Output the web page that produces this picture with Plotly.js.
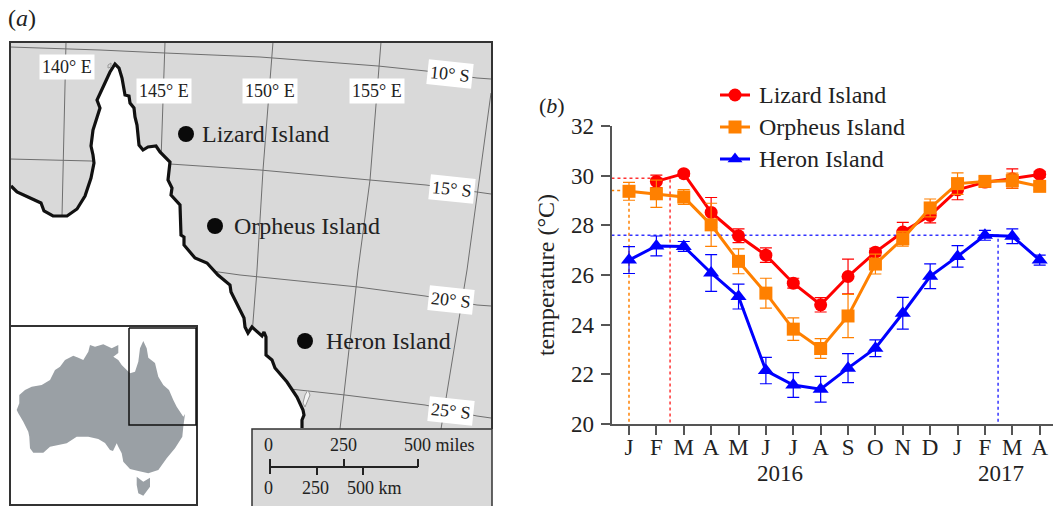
<!DOCTYPE html>
<html><head><meta charset="utf-8">
<script src="https://cdn.plot.ly/plotly-3.0.1.min.js"></script>
<style>html,body{margin:0;padding:0;background:#fff;overflow:hidden}#c{width:1053px;height:506px}</style>
</head><body><div id="c"></div>
<script>
// ---- panel (b) data ----
const months = ['J','F','M','A','M','J','J','A','S','O','N','D','J','F','M','A'];
const monthIndex = [0,1,2,3,4,5,6,7,8,9,10,11,12,13,14,15];
const lizard  = [null,29.77,30.08,28.52,27.58,26.8,25.67,24.8,25.94,26.92,27.73,28.4,29.43,29.74,29.88,30.05];
const lizardE = [null,0.25,0.1,0.6,0.28,0.29,0.2,0.29,0.7,0.15,0.39,0.3,0.4,0.2,0.39,0.12];
const orpheus  = [29.37,29.27,29.14,28.02,26.55,25.27,23.82,23.04,24.35,26.44,27.46,28.7,29.68,29.77,29.8,29.57];
const orpheusE = [0.36,0.55,0.3,0.87,0.5,0.6,0.45,0.4,0.87,0.4,0.3,0.36,0.43,0.2,0.3,0.12];
const heron  = [26.6,27.17,27.15,26.08,25.13,22.15,21.57,21.4,22.25,23.05,24.46,25.95,26.75,27.6,27.56,26.6];
const heronE = [0.54,0.4,0.2,0.74,0.5,0.53,0.5,0.52,0.58,0.34,0.64,0.5,0.43,0.2,0.3,0.2];
// dotted guide lines
const guideRedX = [-0.64,1.5,1.5],  guideRedY = [29.9,29.9,19.65];
const guideOrX  = [-0.87,0,0],      guideOrY  = [29.4,29.4,20];
const guideBlX  = [-0.64,13.48,13.48], guideBlY = [27.6,27.6,19.7];
// legend, in picture units
const seriesNames=['Lizard Island','Orpheus Island','Heron Island'];
const legendLineX=[720,750], legendMarkX=[735], legendRowY=[95,127,159], legendTextX=758;

// ---- panel (a) map outlines, in picture units ----
const frameX = [10,492,492,10,10], frameY = [42,42,506,506,42];
const coastX = [11,17,28,41,44,53,67,77,85,91,94,93,91,93,100,97,104,110,115,119,122,125,129,130,134,135,137,139,143,148,156,160,170,168,172,171,180,181,184,184,195,207,218,230,231,240,244,245,248,252,262,264,266,266,272,275,287,297,303,304,302,302];
const coastY = [186,192,197,203,211,216,216,209,196,178,163,155,146,130,108,100,85,72,64,68,78,95,96,103,108,117,125,145,150,147,146,152,162,180,188,195,205,235,237,245,258,263,275,285,292,310,318,327,333,327,336,332,337,355,360,368,382,397,410,415,420,428];
const landCloseX = [302,11], landCloseY = [506,506];
const lon140X=[66,62], lon140Y=[42,216];
const lon145X=[165,161], lon145Y=[42,160];
const lon150X=[273,263,257,252], lon150Y=[42,170,270,335];
const lon155X=[381,370,358,340], lon155Y=[42,180,270,429];
const lon160X=[491,467,441], lon160Y=[93,270,429];
const lat10X=[10,100,165,260,378,426,477,491], lat10Y=[47,50,53,57,66,71,78,79];
const lat15X=[10,91,170,260,370,426,477,491], lat15Y=[159,161,164,170,180,185,192,194];
const lat20X=[190,240,358,425,477,491], lat20Y=[268,275,287,296,305,306];
const lat25X=[290,345,425,477,491], lat25Y=[389,395,405,416,418];
const fraserX=[308,310,305,303,305,308], fraserY=[390,395,407,403,395,390];
const isleX=[108,111,111,108,108], isleY=[65,63,67,68,65];
const scaleBoxX=[252,492,492,252,252], scaleBoxY=[429,429,506,506,429];
const scaleEdgeX=[252,252,492,492], scaleEdgeY=[506,429,429,506];
const barX=[270,418], barY=[467,467];
const tickUpX=[270,270,null,344,344,null,418,418], tickUpY=[459,474,null,459,467,null,459,467];
const tickDnX=[317,317,null,363,363], tickDnY=[467,475,null,467,475];
const insetX=[10,197,197,10,10], insetY=[326,326,505,505,326];
const insetBoxX=[129,196,196,129,129], insetBoxY=[328,328,425,425,328];
const ausX=[143.3,146.7,148.3,155,158.3,163.3,169,173.3,176.7,183.3,185,183.3,182.3,175,166.7,158.3,148.3,138.3,130,123.3,121.7,118.3,116.7,113,110,105,98.3,88.3,76.7,66.7,50,43.3,33.3,30,29.3,28.3,23.3,18.3,16.7,19.3,19.3,25,31.7,41.7,50,55,60,65,73.3,78.3,83.3,88.3,90,95,103.3,111.7,118.3,118.3,113.3,118.3,121.7,130,135,138.3,140,143.3];
const ausY=[341,348.3,357.7,363,376.7,385,390,400,406.7,416.7,414,426.7,436.7,448.3,458.3,470,473.3,471,469,461.7,453.3,446.7,443.3,451,450,443,439,436.7,436.7,443.3,446.7,452.7,452.7,448.3,436.7,431.7,421.7,413.3,410,403.3,395,390,386.7,385,380,370,366.7,360,355.7,357.7,360,351.7,345,346.7,344.3,348.3,345,353,356.7,360,365,373.3,371.7,361.7,348.3,341];
const tasX=[136.7,143.3,150,150,143.3,138.3,136.7], tasY=[476.7,481.7,477.7,486.7,495.7,493.3,485];
const siteNames=['Lizard Island','Orpheus Island','Heron Island'];
const siteX=[186,215,305], siteY=[134,226,341], siteLabelX=[201,233,325];
const lonLabels=['140° E','145° E','150° E','155° E'], lonLabelX=[66.5,164,270,376.7], lonLabelY=[66.5,90.5,90.5,91];
const latLabels=['10° S','15° S','20° S','25° S'], latLabelX=[450,451.5,451,451], latLabelY=[74,189,300,411];
const scaleLabels=['0','250','500 miles','0','250','500 km'], scaleLabelX=[268,343,439,268,315,374], scaleLabelY=[445,445,445,488,488,488];

const SERIF='"Liberation Serif","Times New Roman",serif', INK='#222';
const RED='#ff0000', ORANGE='#ff8000', BLUE='#0000ff', AXIS='#555';
const seriesColors=[RED,ORANGE,BLUE], seriesSymbols=['circle','square','triangle-up'];

function mapLine(x,y,color,width,fill,fillcolor){
  return {x,y,xaxis:'x2',yaxis:'y2',mode:'lines',showlegend:false,hoverinfo:'skip',
    line:{color,width:width,simplify:false},fill:fill||'none',fillcolor:fillcolor};
}
const GRID='#6f6f6f';
const traces=[
  mapLine(frameX,frameY,'#d9d9d9',0,'toself','#d9d9d9'),
  mapLine(lon140X,lon140Y,GRID,1), mapLine(lon145X,lon145Y,GRID,1), mapLine(lon150X,lon150Y,GRID,1),
  mapLine(lon155X,lon155Y,GRID,1), mapLine(lon160X,lon160Y,GRID,1),
  mapLine(lat10X,lat10Y,GRID,1), mapLine(lat15X,lat15Y,GRID,1), mapLine(lat20X,lat20Y,GRID,1), mapLine(lat25X,lat25Y,GRID,1),
  mapLine(coastX.concat(landCloseX),coastY.concat(landCloseY),'#ffffff',0,'toself','#ffffff'),
  mapLine(coastX,coastY,'#111',3.2),
  mapLine(fraserX,fraserY,'#999',1,'toself','#f4f4f4'),
  mapLine(isleX,isleY,'#999',1),
  mapLine([10,10,492,492],[506,42,42,429],'#333',2),
  mapLine(scaleBoxX,scaleBoxY,'#d9d9d9',0,'toself','#d9d9d9'),
  mapLine(scaleEdgeX,scaleEdgeY,'#333',1.5),
  mapLine(barX,barY,'#222',2), mapLine(tickUpX,tickUpY,'#222',2), mapLine(tickDnX,tickDnY,'#222',2),
  mapLine(insetX,insetY,'#333',2,'toself','#ffffff'),
  mapLine(ausX,ausY,'#9aa0a5',0,'toself','#9aa0a5'),
  mapLine(tasX,tasY,'#9aa0a5',0,'toself','#9aa0a5'),
  mapLine(insetBoxX,insetBoxY,'#111',1.5),
  {x:siteX,y:siteY,xaxis:'x2',yaxis:'y2',mode:'markers',showlegend:false,hoverinfo:'skip',marker:{color:'#0a0a0a',size:16,symbol:'circle'}},
  // panel (b)
  {x:guideRedX,y:guideRedY,mode:'lines',cliponaxis:false,showlegend:false,hoverinfo:'skip',line:{color:'#ff3333',width:1.5,dash:'3px,3px'}},
  {x:guideOrX,y:guideOrY,mode:'lines',cliponaxis:false,showlegend:false,hoverinfo:'skip',line:{color:'#ff8000',width:1.5,dash:'3px,3px'}},
  {x:guideBlX,y:guideBlY,mode:'lines',cliponaxis:false,showlegend:false,hoverinfo:'skip',line:{color:'#3333ff',width:1.5,dash:'3px,3px'}},
  {name:seriesNames[0],x:monthIndex,y:lizard,mode:'lines+markers',cliponaxis:false,showlegend:false,
   line:{color:RED,width:3},marker:{color:RED,size:13,symbol:'circle'},
   error_y:{type:'data',array:lizardE,visible:true,color:RED,thickness:1.2,width:6}},
  {name:seriesNames[1],x:monthIndex,y:orpheus,mode:'lines+markers',cliponaxis:false,showlegend:false,
   line:{color:ORANGE,width:3},marker:{color:ORANGE,size:13,symbol:'square'},
   error_y:{type:'data',array:orpheusE,visible:true,color:ORANGE,thickness:1.2,width:6}},
  {name:seriesNames[2],x:monthIndex,y:heron,mode:'lines+markers',cliponaxis:false,showlegend:false,
   line:{color:BLUE,width:3},marker:{color:BLUE,size:14,symbol:'triangle-up'},
   error_y:{type:'data',array:heronE,visible:true,color:BLUE,thickness:1.2,width:6}}
];
// legend keys
seriesNames.forEach((n,i)=>{
  traces.push(mapLine(legendLineX,[legendRowY[i],legendRowY[i]],seriesColors[i],3));
  traces.push({x:legendMarkX,y:[legendRowY[i]],xaxis:'x2',yaxis:'y2',mode:'markers',showlegend:false,hoverinfo:'skip',
    marker:{color:seriesColors[i],size:13,symbol:seriesSymbols[i]}});
});
function note(text,x,y,size,extra){
  return Object.assign({text,x,y,xref:'x2',yref:'y2',showarrow:false,font:{family:SERIF,size,color:INK},xanchor:'center',yanchor:'middle',borderpad:0},extra||{});
}
const annotations=[];
siteNames.forEach((n,i)=>annotations.push(note(n,siteLabelX[i],siteY[i],24,{xanchor:'left'})));
lonLabels.forEach((n,i)=>annotations.push(note(n,lonLabelX[i],lonLabelY[i],18,{bgcolor:'#fff',borderpad:2})));
latLabels.forEach((n,i)=>annotations.push(note(n,latLabelX[i],latLabelY[i],18,{bgcolor:'#fff',borderpad:2,textangle:6})));
scaleLabels.forEach((n,i)=>annotations.push(note(n,scaleLabelX[i],scaleLabelY[i],18)));
seriesNames.forEach((n,i)=>annotations.push(note(n,legendTextX,legendRowY[i],24,{xanchor:'left'})));
annotations.push(note('(<i>a</i>)',22,18,24));
annotations.push(note('(<i>b</i>)',552,105,22));
annotations.push(note('2016',780,473,23));
annotations.push(note('2017',1001,473,23));

const layout={
  width:1053,height:506,margin:{l:0,r:0,t:0,b:0},paper_bgcolor:'#fff',plot_bgcolor:'rgba(0,0,0,0)',
  font:{family:SERIF,color:INK},showlegend:false,
  xaxis:{domain:[611.5/1053,1],range:[-0.639,15.486],tickmode:'array',tickvals:monthIndex,ticktext:months,
    ticks:'outside',ticklen:9,tickwidth:2,tickcolor:AXIS,showline:true,linecolor:AXIS,linewidth:2,ticklabelstandoff:-8,
    showgrid:false,zeroline:false,tickfont:{family:SERIF,size:23,color:INK},anchor:'y'},
  yaxis:{domain:[(506-424)/506,(506-126)/506],range:[20,32],dtick:2,tick0:20,
    ticks:'outside',ticklen:9,tickwidth:2,tickcolor:AXIS,showline:true,linecolor:AXIS,linewidth:2,ticklabelstandoff:2,
    showgrid:false,zeroline:false,tickfont:{family:SERIF,size:23,color:INK},anchor:'x',
    title:{text:'temperature (°C)',font:{family:SERIF,size:24,color:INK},standoff:10}},
  xaxis2:{domain:[0,1],range:[0,1053],visible:false,fixedrange:true,anchor:'y2'},
  yaxis2:{domain:[0,1],range:[506,0],visible:false,fixedrange:true,anchor:'x2'},
  annotations
};
Plotly.newPlot('c',traces,layout,{displayModeBar:false,staticPlot:true});
</script></body></html>
